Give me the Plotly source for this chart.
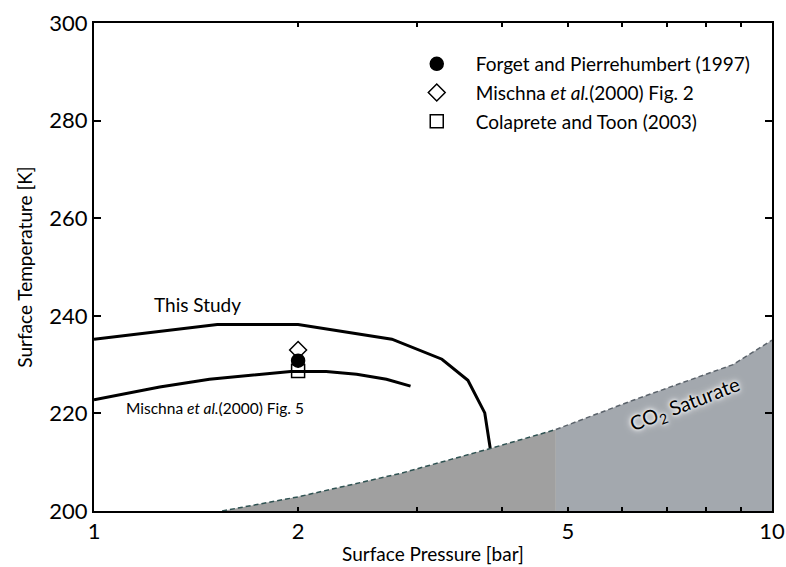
import math
import plotly.graph_objects as go

# ---- data ----
study_p = [1.0, 1.52, 2.0, 2.75, 3.26, 3.56, 3.77, 3.84]
study_t = [235.2, 238.2, 238.2, 235.2, 231.1, 226.8, 220.1, 212.9]

mischna5_p = [1.0, 1.25, 1.48, 1.75, 1.95, 2.2, 2.44, 2.7, 2.93]
mischna5_t = [222.8, 225.4, 227.0, 228.0, 228.6, 228.6, 228.0, 227.0, 225.6]

sat_p = [1.545, 2.0, 2.83, 3.84, 4.8, 6.24, 8.76, 10.0]
sat_t = [200.0, 202.9, 207.7, 212.8, 216.7, 222.7, 230.0, 235.0]
split_p = 4.8  # where the shading colour changes

pts_names = ["Forget and Pierrehumbert (1997)",
             "Mischna <i>et al.</i>(2000) Fig. 2",
             "Colaprete and Toon (2003)"]
pts_p = [2.0, 2.0, 2.0]
pts_t = [230.8, 233.0, 228.7]
pts_symbols = ["circle", "diamond-open", "square-open"]

x_ticks = [1, 2, 3, 4, 5, 6, 7, 8, 9, 10]
x_ticktext = ["1", "2", "", "", "5", "", "", "", "", "10"]
y_ticks = [200, 220, 240, 260, 280, 300]

FONT = "Lato, 'Open Sans', sans-serif"

fig = go.Figure()

# shaded CO2 saturation region (two tones)
left_p = [p for p in sat_p if p <= split_p]
left_t = [t for p, t in zip(sat_p, sat_t) if p <= split_p]
right_p = [p for p in sat_p if p >= split_p]
right_t = [t for p, t in zip(sat_p, sat_t) if p >= split_p]

fig.add_trace(go.Scatter(x=left_p + [left_p[-1], left_p[0]],
                         y=left_t + [200, 200], fill="toself",
                         fillcolor="#a0a0a0", line=dict(width=0),
                         mode="lines", showlegend=False, hoverinfo="skip"))
fig.add_trace(go.Scatter(x=right_p + [right_p[-1], right_p[0]],
                         y=right_t + [200, 200], fill="toself",
                         fillcolor="#a3a8ae", line=dict(width=0),
                         mode="lines", showlegend=False, hoverinfo="skip"))
fig.add_trace(go.Scatter(x=left_p, y=left_t, mode="lines",
                         line=dict(color="#2f5252", width=1.5, dash="5px,3px"),
                         showlegend=False, hoverinfo="skip"))
fig.add_trace(go.Scatter(x=right_p, y=right_t, mode="lines",
                         line=dict(color="#5b636b", width=1.5, dash="5px,3px"),
                         showlegend=False, hoverinfo="skip"))

# curves
fig.add_trace(go.Scatter(x=study_p, y=study_t, mode="lines",
                         line=dict(color="black", width=3), showlegend=False))
fig.add_trace(go.Scatter(x=mischna5_p, y=mischna5_t, mode="lines",
                         line=dict(color="black", width=3), showlegend=False))

# points (drawn square, diamond, circle; legend order circle, diamond, square)
for i in [2, 1, 0]:
    mk = dict(symbol=pts_symbols[i], size=13, color="black",
              line=dict(color="black", width=1.5))
    fig.add_trace(go.Scatter(x=[pts_p[i]], y=[pts_t[i]], mode="markers",
                             name=pts_names[i], marker=mk, legendrank=i + 1,
                             legendgroup=str(i)))

fig.add_annotation(x=math.log10(1.42), y=242.3, text="This Study", showarrow=False,
                   font=dict(family=FONT, size=19, color="black"))
fig.add_annotation(x=math.log10(1.51), y=221.1, text="Mischna <i>et al.</i>(2000) Fig. 5",
                   showarrow=False, font=dict(family=FONT, size=15.5, color="black"))
fig.add_annotation(x=math.log10(7.45), y=221.8, text="CO<sub>2</sub> Saturate",
                   showarrow=False, textangle=-21,
                   font=dict(family=FONT, size=20, color="black",
                             shadow="0px 0px 3px white, 0px 0px 5px white, 0px 0px 8px white"))

axis_common = dict(showline=True, linecolor="black", linewidth=2, mirror="ticks",
                   ticks="inside", tickcolor="black", showgrid=False, zeroline=False,
                   automargin=False,
                   tickfont=dict(family=FONT, size=22, color="black"))

fig.update_xaxes(type="log", range=[0, 1], tickvals=x_ticks, ticktext=x_ticktext,
                 ticklen=4, tickwidth=2,
                 title=dict(text="Surface Pressure [bar]", standoff=4,
                            font=dict(family=FONT, size=19, color="black")),
                 **axis_common)
fig.update_yaxes(range=[200, 300], tickvals=y_ticks, ticklen=7, tickwidth=2,
                 title=dict(text="Surface Temperature [K]", standoff=12,
                            font=dict(family=FONT, size=19, color="black")),
                 **axis_common)

fig.update_layout(
    width=786, height=567,
    margin=dict(l=94, r=14, t=23, b=56),
    paper_bgcolor="white", plot_bgcolor="white",
    font=dict(family=FONT, color="black"),
    legend=dict(x=0.448, y=0.955, xanchor="left", yanchor="top",
                bgcolor="rgba(0,0,0,0)", traceorder="grouped", tracegroupgap=1,
                font=dict(family=FONT, size=19, color="black"),
                itemwidth=68),
)

fig.write_html("out.html")
